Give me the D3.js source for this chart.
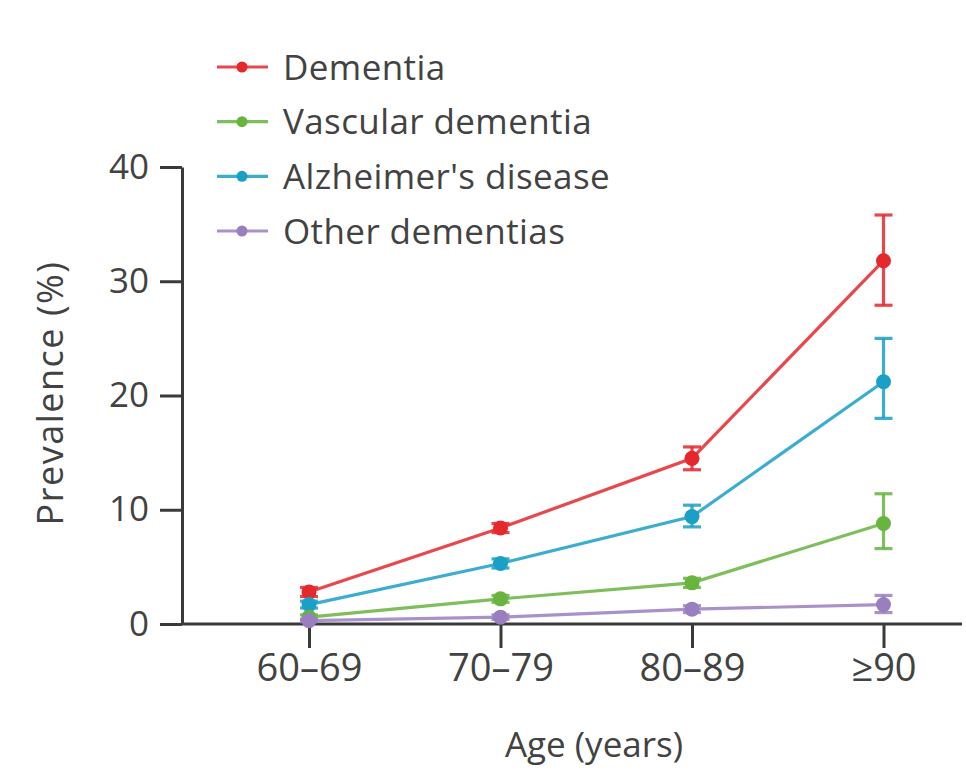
<!DOCTYPE html>
<html>
<head>
<meta charset="utf-8">
<script src="https://cdn.jsdelivr.net/npm/d3@7"></script>
<style>
  html, body { margin: 0; padding: 0; background: #ffffff; }
  svg { display: block; }
  text { font-family: "Open Sans", Lato, sans-serif; fill: #424242; }
</style>
</head>
<body>
<svg id="chart" width="966" height="771"></svg>
<script>
const categories = ["60–69", "70–79", "80–89", "≥90"];
const yTicks = [0, 10, 20, 30, 40];

const seriesNames = ["Dementia", "Vascular dementia", "Alzheimer's disease", "Other dementias"];

const dementia      = [2.8, 8.4, 14.5, 31.8];
const dementiaLow   = [2.4, 8.0, 13.5, 27.9];
const dementiaHigh  = [3.2, 8.8, 15.5, 35.8];

const vascular      = [0.6, 2.2, 3.6, 8.8];
const vascularLow   = [0.4, 1.9, 3.2, 6.6];
const vascularHigh  = [0.8, 2.5, 4.0, 11.4];

const alzheimers     = [1.7, 5.3, 9.4, 21.2];
const alzheimersLow  = [1.4, 4.9, 8.5, 18.0];
const alzheimersHigh = [2.0, 5.7, 10.4, 25.0];

const other     = [0.3, 0.6, 1.3, 1.7];
const otherLow  = [0.2, 0.4, 1.0, 1.0];
const otherHigh = [0.4, 0.8, 1.6, 2.5];

const colors = {
  "Dementia": "#e4282c",
  "Vascular dementia": "#69b33f",
  "Alzheimer's disease": "#1a9fc6",
  "Other dementias": "#9a7fc0"
};

const series = [
  { name: "Dementia", v: dementia, lo: dementiaLow, hi: dementiaHigh },
  { name: "Alzheimer's disease", v: alzheimers, lo: alzheimersLow, hi: alzheimersHigh },
  { name: "Vascular dementia", v: vascular, lo: vascularLow, hi: vascularHigh },
  { name: "Other dementias", v: other, lo: otherLow, hi: otherHigh }
];

const svg = d3.select("#chart");
const axisColor = "#3a3a3a";
const fontFam = "'Open Sans', Lato, sans-serif";
const textColor = "#424242";

const x = d3.scalePoint().domain(categories).range([309, 883.5]);
const y = d3.scaleLinear().domain([0, 40]).range([624, 167]);
const axisX0 = 182;

// Y axis
const yAxis = svg.append("g")
  .attr("transform", `translate(${axisX0},0)`)
  .call(d3.axisLeft(y).tickValues(yTicks).tickSize(22).tickPadding(11).tickSizeOuter(0));
yAxis.select(".domain").attr("stroke", axisColor).attr("stroke-width", 3);
yAxis.selectAll(".tick line").attr("stroke", axisColor).attr("stroke-width", 3);
yAxis.selectAll(".tick text").attr("font-size", 35).attr("fill", textColor)
  .attr("font-family", fontFam);

// X axis
const xAxis = svg.append("g")
  .attr("transform", `translate(0,${y(0)})`)
  .call(d3.axisBottom(x).tickSize(24).tickPadding(6).tickSizeOuter(0));
xAxis.select(".domain").attr("d", `M${axisX0},0H962`).attr("stroke", axisColor).attr("stroke-width", 3);
xAxis.selectAll(".tick line").attr("stroke", axisColor).attr("stroke-width", 3);
xAxis.selectAll(".tick text").attr("font-size", 38).attr("fill", textColor)
  .attr("font-family", fontFam);

// Axis titles
svg.append("text")
  .attr("x", 594).attr("y", 757)
  .attr("text-anchor", "middle")
  .attr("font-size", 35)
  .text("Age (years)");

svg.append("text")
  .attr("transform", "translate(63,393) rotate(-90)")
  .attr("text-anchor", "middle")
  .attr("font-size", 36)
  .attr("letter-spacing", 1.5)
  .text("Prevalence (%)");

// Series
const line = d3.line().x((d, i) => x(categories[i])).y(d => y(d));
const capW = 9;

series.forEach(s => {
  const c = colors[s.name];
  const g = svg.append("g");
  g.append("path")
    .attr("d", line(s.v))
    .attr("fill", "none")
    .attr("stroke", c)
    .attr("stroke-opacity", 0.85)
    .attr("stroke-width", 3.2);
  categories.forEach((cat, i) => {
    const cx = x(cat);
    g.append("line")
      .attr("x1", cx).attr("x2", cx)
      .attr("y1", y(s.lo[i])).attr("y2", y(s.hi[i]))
      .attr("stroke", c).attr("stroke-opacity", 0.85).attr("stroke-width", 3.2);
    [s.lo[i], s.hi[i]].forEach(val => {
      g.append("line")
        .attr("x1", cx - capW).attr("x2", cx + capW)
        .attr("y1", y(val)).attr("y2", y(val))
        .attr("stroke", c).attr("stroke-opacity", 0.85).attr("stroke-width", 3.2);
    });
    g.append("circle")
      .attr("cx", cx).attr("cy", y(s.v[i]))
      .attr("r", 7.5)
      .attr("fill", c);
  });
});

// Legend
const legendY = d3.scalePoint().domain(seriesNames).range([67, 231]);
const legend = svg.append("g");
seriesNames.forEach(name => {
  const ly = legendY(name);
  legend.append("line")
    .attr("x1", 217).attr("x2", 268)
    .attr("y1", ly).attr("y2", ly)
    .attr("stroke", colors[name]).attr("stroke-opacity", 0.85).attr("stroke-width", 3.2);
  legend.append("circle")
    .attr("cx", 242).attr("cy", ly).attr("r", 5.5)
    .attr("fill", colors[name]);
  legend.append("text")
    .attr("x", 283).attr("y", ly)
    .attr("dy", "0.36em")
    .attr("font-size", 35)
    .attr("letter-spacing", 0.4)
    .text(name);
});
</script>
</body>
</html>
